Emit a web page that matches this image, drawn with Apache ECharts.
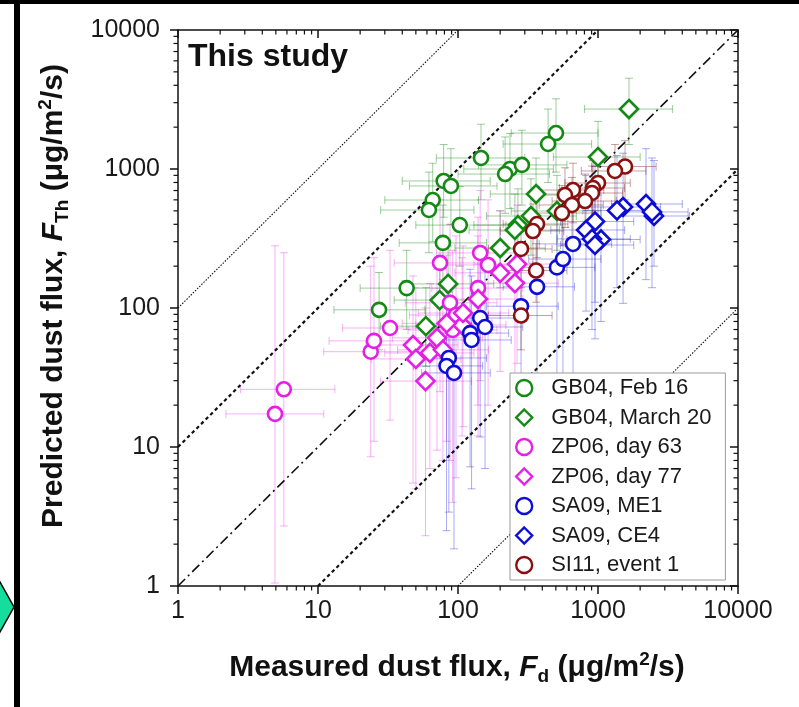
<!DOCTYPE html>
<html>
<head>
<meta charset="utf-8">
<script src="https://cdn.jsdelivr.net/npm/echarts@6/dist/echarts.min.js"></script>
<style>html,body{margin:0;padding:0;background:#fff}#c{width:799px;height:707px}</style>
</head>
<body>
<div id="c"></div>
<script>
// ---- data: [measured Fd, predicted FTh] per point ----
var seriesNames = ['GB04, Feb 16','GB04, March 20','ZP06, day 63','ZP06, day 77','SA09, ME1','SA09, CE4','SI11, event 1'];
var seriesColors = ['#138a13','#138a13','#e51fe5','#e51fe5','#0d0dd6','#0d0dd6','#8a1010'];
var seriesSymbols = ['circle','diamond','circle','diamond','circle','diamond','circle'];

var gb04Feb = [[146,1200],[79,820],[89,755],[66,598],[62,507],[103,395],[78,294],[235,1000],[217,920],[286,1070],[501,1815],[440,1513],[43,139],[27.3,97]];
var gb04FebErr = [[70,300,600,2100],[40,170,450,1500],[45,190,400,1400],[30,140,300,1100],[28,130,250,950],[50,220,200,750],[38,160,150,550],[110,480,520,1800],[100,450,480,1700],[140,600,550,1900],[240,1000,950,3200],[210,900,800,2700],[20,90,70,260],[13,58,50,180]];

var gb04Mar = [[1665,2700],[1000,1220],[361,661],[332,459],[509,499],[268,395],[255,364],[200,270],[85,149],[74,114],[59,74]];
var gb04MarErr = [[800,3400,1500,4500],[480,2000,650,2200],[170,750,350,1200],[160,700,240,850],[240,1050,260,900],[130,560,210,720],[120,530,190,660],[95,420,140,500],[40,180,75,280],[35,155,60,210],[28,125,38,140]];

var zp06d63 = [[5.7,26],[4.93,17.3],[23.8,48.5],[25.1,58],[32.7,71.8],[74.4,211],[87.7,109],[96.8,89],[144,249],[164,204],[139,139],[91.6,69.5]];
var zp06d63Err = [[2.8,13.2,2.7,250],[2.2,11,1.05,280],[11,50,8.5,200],[12,52,11,230],[15,70,15.6,260],[35,160,25,600],[42,190,8,400],[45,200,6,330],[70,300,30,700],[80,340,20,600],[65,290,12,450],[44,190,4,260]];

var zp06d77 = [[264,207],[255,151],[200,179],[139,116],[107,75.5],[70.8,61],[63,47.5],[78,50],[47.7,54.2],[50,43],[58.6,29.8],[108.6,92],[83,77.6]];
var zp06d77Err = [[130,540,40,550],[125,520,30,420],[95,410,35,500],[65,290,20,330],[50,220,12,230],[34,150,9.5,190],[30,130,7,150],[37,165,8,160],[22,100,5.5,170],[24,105,5,140],[28,125,2.3,100],[52,230,14,280],[40,175,11,240]];

var sa09me1 = [[86,43.7],[82.8,38.3],[93.6,34.1],[122,66],[125,58.9],[144,84.7],[156,73],[282,103],[367,142],[509,196],[562,225],[663,289]];
var sa09me1Err = [[50,160,3.4,130],[48,150,2.5,115],[55,170,1.85,100],[70,230,7.2,190],[72,240,5,170],[85,270,11.8,240],[90,290,7,210],[160,520,10,290],[210,680,15,400],[290,950,20,540],[320,1050,25,620],[380,1250,30,780]];

var sa09ce4 = [[1510,533],[1367,503],[2202,560],[2512,459],[2430,491],[952,419],[821,364],[1050,311],[906,314],[952,284]];
var sa09ce4Err = [[850,2800,108,1300],[780,2600,140,1250],[1250,4000,160,1400],[1400,4500,200,1150],[1350,4400,140,1200],[540,1800,110,1050],[460,1550,95,900],[600,2000,80,780],[510,1700,70,790],[540,1800,60,710]];

var si11ev1 = [[1560,1042],[1322,968],[1000,793],[921,730],[906,672],[663,706],[581,650],[808,588],[652,551],[553,482],[367,402],[343,358],[282,266],[361,186],[282,88.3]];
var si11ev1Err = [[900,2600,600,1600],[760,2200,560,1500],[580,1700,460,1250],[530,1550,420,1150],[520,1500,390,1050],[380,1100,410,1100],[330,980,380,1020],[470,1350,340,920],[380,1090,320,870],[320,920,280,760],[210,610,230,630],[200,570,210,560],[165,470,155,420],[210,600,110,290],[165,470,50,140]];

var errColors = ['rgba(19,138,19,0.42)','rgba(19,138,19,0.42)','rgba(229,31,229,0.35)','rgba(229,31,229,0.35)','rgba(13,13,214,0.35)','rgba(13,13,214,0.35)','rgba(120,20,20,0.4)'];

// reference lines: ratio predicted/measured
var refRatios = [1, 10, 0.1, 100, 0.01];
var refLineStyles = [
  {width:1.6, type:[10,4,2,4]},
  {width:2.2, type:[3.5,3]},
  {width:2.2, type:[3.5,3]},
  {width:1.1, type:[1.5,1.5]},
  {width:1.1, type:[1.5,1.5]}
];

// axis ticks
var axisMin = 1, axisMax = 10000;
var tickLabels = ['1','10','100','1000','10000'];
var minorTickValues = [2,3,4,5,6,7,8,9,20,30,40,50,60,70,80,90,200,300,400,500,600,700,800,900,2000,3000,4000,5000,6000,7000,8000,9000];

var allPoints = [gb04Feb, gb04Mar, zp06d63, zp06d77, sa09me1, sa09ce4, si11ev1];
var allErrs = [gb04FebErr, gb04MarErr, zp06d63Err, zp06d77Err, sa09me1Err, sa09ce4Err, si11ev1Err];

var chart = echarts.init(document.getElementById('c'), null, {renderer:'canvas'});

function refEnds(r){
  var x0 = r >= 1 ? axisMin : axisMin / r;
  var x1 = r >= 1 ? axisMax / r : axisMax;
  return [[x0, x0 * r], [x1, x1 * r]];
}

var series = [];
allErrs.forEach(function(errs, si){
  var pts = allPoints[si];
  var rows = pts.map(function(p, i){ return [p[0], p[1], errs[i][0], errs[i][1], errs[i][2], errs[i][3]]; });
  var col = errColors[si];
  series.push({
    type:'custom', name:'err'+si, data: rows, clip:true, z:1, silent:true,
    encode:{x:0, y:1},
    renderItem:function(params, api){
      var x = api.value(0), y = api.value(1);
      var p = api.coord([x,y]);
      var pl = api.coord([api.value(2), y]), ph = api.coord([api.value(3), y]);
      var pb = api.coord([x, api.value(4)]), pt = api.coord([x, api.value(5)]);
      var c = 4;
      var st = {stroke: col, lineWidth: 1, fill: null};
      return {type:'group', children:[
        {type:'line', shape:{x1:pl[0], y1:p[1], x2:ph[0], y2:p[1]}, style:st},
        {type:'line', shape:{x1:pl[0], y1:p[1]-c, x2:pl[0], y2:p[1]+c}, style:st},
        {type:'line', shape:{x1:ph[0], y1:p[1]-c, x2:ph[0], y2:p[1]+c}, style:st},
        {type:'line', shape:{x1:p[0], y1:pb[1], x2:p[0], y2:pt[1]}, style:st},
        {type:'line', shape:{x1:p[0]-c, y1:pb[1], x2:p[0]+c, y2:pb[1]}, style:st},
        {type:'line', shape:{x1:p[0]-c, y1:pt[1], x2:p[0]+c, y2:pt[1]}, style:st}
      ]};
    }
  });
});

refRatios.forEach(function(r, i){
  series.push({
    type:'line', name:'ref'+i, data: refEnds(r), symbol:'none', silent:true, z:2,
    lineStyle:{color:'#111', width: refLineStyles[i].width, type: refLineStyles[i].type}
  });
});

// minor ticks on all four sides
series.push({
  type:'custom', name:'minorTicks', clip:false, silent:true, z:5,
  data: minorTickValues.map(function(v){ return [v, v]; }),
  encode:{x:0, y:1},
  renderItem:function(params, api){
    var v = api.value(0);
    var b = api.coord([v, axisMin]), t = api.coord([v, axisMax]);
    var l = api.coord([axisMin, v]), r = api.coord([axisMax, v]);
    var L = 4.5;
    var st = {stroke:'#111', lineWidth:1.2};
    return {type:'group', children:[
      {type:'line', shape:{x1:b[0], y1:b[1], x2:b[0], y2:b[1]+L}, style:st},
      {type:'line', shape:{x1:t[0], y1:t[1], x2:t[0], y2:t[1]+L}, style:st},
      {type:'line', shape:{x1:l[0], y1:l[1], x2:l[0]-L, y2:l[1]}, style:st},
      {type:'line', shape:{x1:r[0], y1:r[1], x2:r[0]-L, y2:r[1]}, style:st}
    ]};
  }
});

allPoints.forEach(function(pts, si){
  series.push({
    type:'scatter', name: seriesNames[si], data: pts, z:3,
    symbol: seriesSymbols[si],
    symbolSize: seriesSymbols[si] === 'diamond' ? 18 : 14,
    itemStyle:{color:'#ffffff', borderColor: seriesColors[si], borderWidth:2.6, opacity:1}
  });
});

var axisFont = {fontFamily:'Liberation Sans, Arial, sans-serif', fontSize:25, color:'#1a1a1a'};
var titleFont = 'bold 30px "Liberation Sans", Arial, sans-serif';
var titleRich = {
  n:{font:titleFont, fill:'#111', lineHeight:36},
  i:{font:'italic ' + titleFont, fill:'#111', lineHeight:36},
  sub:{font:'bold 19px "Liberation Sans", Arial, sans-serif', fill:'#111', verticalAlign:'bottom', lineHeight:16},
  sup:{font:'bold 19px "Liberation Sans", Arial, sans-serif', fill:'#111', verticalAlign:'top', lineHeight:16}
};

var option = {
  animation:false,
  backgroundColor:'#ffffff',
  grid:{left:178, top:30, width:560, height:556, containLabel:false},
  xAxis:[
    {type:'log', logBase:10, min:axisMin, max:axisMax, position:'bottom',
     axisLine:{onZero:false, lineStyle:{color:'#111', width:1.5}},
     axisTick:{show:true, inside:false, length:8, lineStyle:{color:'#111', width:1.5}},
     axisLabel:Object.assign({margin:13, formatter:function(v){ return tickLabels[Math.round(Math.log10(v))]; }}, axisFont),
     splitLine:{show:false}, minorTick:{show:false}},
    {type:'log', logBase:10, min:axisMin, max:axisMax, position:'top',
     axisLine:{onZero:false, lineStyle:{color:'#111', width:1.5}},
     axisTick:{show:true, inside:true, length:8, lineStyle:{color:'#111', width:1.5}},
     axisLabel:{show:false}, splitLine:{show:false}}
  ],
  yAxis:[
    {type:'log', logBase:10, min:axisMin, max:axisMax, position:'left',
     axisLine:{onZero:false, lineStyle:{color:'#111', width:1.5}},
     axisTick:{show:true, inside:false, length:8, lineStyle:{color:'#111', width:1.5}},
     axisLabel:Object.assign({margin:18, formatter:function(v){ return tickLabels[Math.round(Math.log10(v))]; }}, axisFont),
     splitLine:{show:false}},
    {type:'log', logBase:10, min:axisMin, max:axisMax, position:'right',
     axisLine:{onZero:false, lineStyle:{color:'#111', width:1.5}},
     axisTick:{show:true, inside:true, length:8, lineStyle:{color:'#111', width:1.5}},
     axisLabel:{show:false}, splitLine:{show:false}}
  ],
  legend:{
    data: seriesNames, orient:'vertical', left:510, top:373,
    padding:[4,14,4,5], itemGap:7.5, itemWidth:16, itemHeight:16,
    backgroundColor:'#ffffff', borderColor:'#9a9a9a', borderWidth:1,
    itemStyle:{borderWidth:2.4},
    textStyle:{fontFamily:'Liberation Sans, Arial, sans-serif', fontSize:22, color:'#1a1a1a', lineHeight:22, padding:[0,0,0,14]}
  },
  series: series,
  graphic:[
    {type:'rect', left:0, top:0, shape:{width:799, height:4}, style:{fill:'#000'}, z:100},
    {type:'rect', left:14, top:0, shape:{width:6, height:707}, style:{fill:'#000'}, z:100},
    {type:'polygon', shape:{points:[[-10,564],[14,607],[-10,650]]}, style:{fill:'#15dd9c', stroke:'#000', lineWidth:1.5}, z:100},
    {type:'text', left:188, top:41, z:50,
     style:{text:'This study', font:'bold 32px "Liberation Sans", Arial, sans-serif', fill:'#111'}},
    {type:'text', x:457, y:668, z:50,
     style:{text:'Measured dust flux, {i|F}{sub|d} ({n|μg/m}{sup|2}{n|/s})', align:'center', verticalAlign:'middle',
       font:titleFont, fill:'#111', rich:titleRich}},
    {type:'text', x:54, y:296, rotation:Math.PI/2, z:50,
     style:{text:'Predicted dust flux, {i|F}{sub|Th} ({n|μg/m}{sup|2}{n|/s})', align:'center', verticalAlign:'middle',
       font:titleFont, fill:'#111', rich:titleRich}}
  ]
};
chart.setOption(option);
</script>
</body>
</html>
